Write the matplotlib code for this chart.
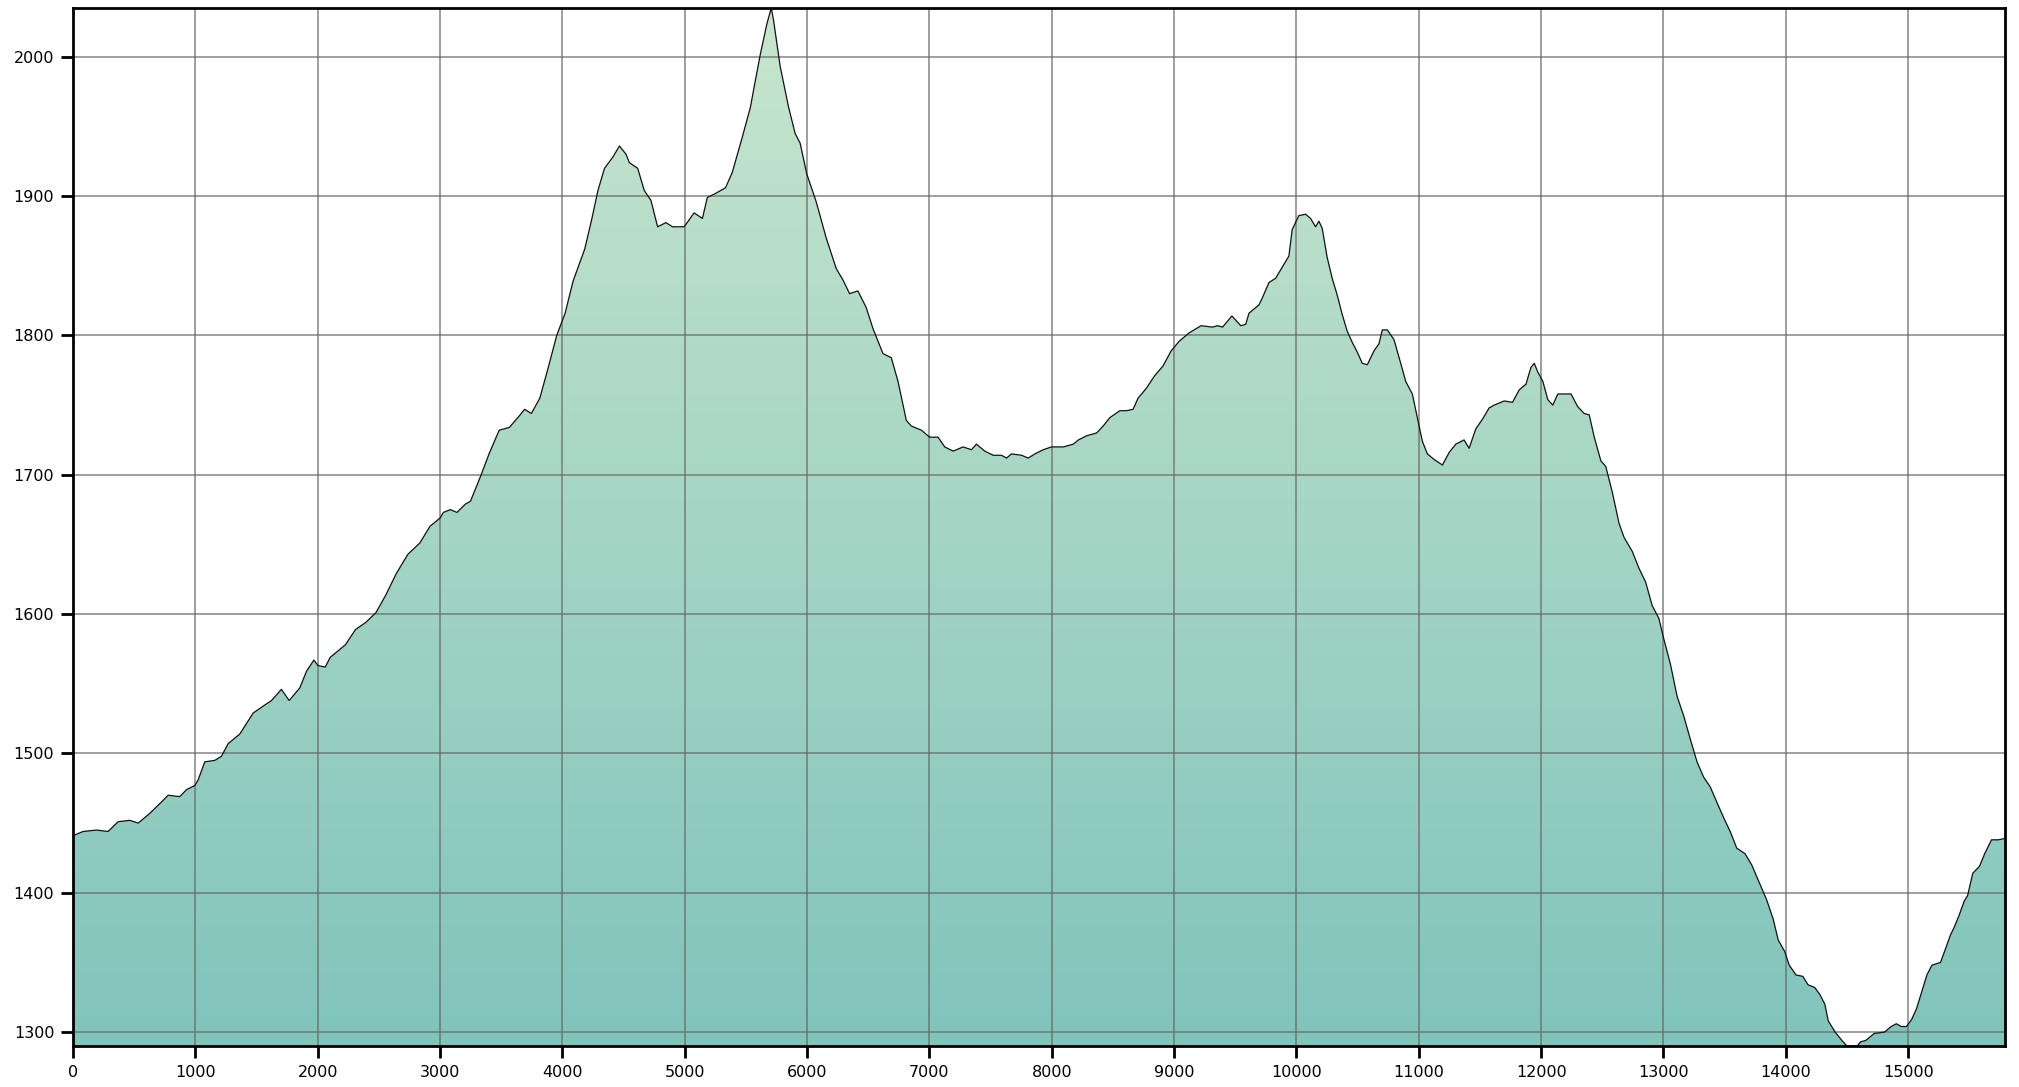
import numpy as np
import matplotlib
matplotlib.use("Agg")
import matplotlib.pyplot as plt
from matplotlib.colors import LinearSegmentedColormap

# distance along the route (m) and elevation (m)
dist = [0, 82, 191, 286, 368, 463, 532, 627, 709, 777, 872, 927, 995, 1022, 1077,
        1158, 1213, 1267, 1363, 1472, 1554, 1622, 1703, 1766, 1853, 1908, 1968,
        2003, 2061, 2102, 2226, 2309, 2392, 2475, 2558, 2641, 2737, 2834, 2917,
        3000, 3027, 3083, 3138, 3207, 3248, 3331, 3400, 3483, 3566, 3635, 3691,
        3746, 3815, 3884, 3953, 4022, 4087, 4182, 4236, 4290, 4344, 4412, 4466,
        4520, 4547, 4615, 4669, 4723, 4778, 4846, 4900, 4995, 5076, 5144, 5184,
        5252, 5333, 5388, 5469, 5537, 5564, 5618, 5672, 5707, 5726, 5780, 5848,
        5902, 5943, 5997, 6074, 6156, 6238, 6292, 6347, 6415, 6483, 6538, 6620,
        6688, 6743, 6811, 6852, 6934, 7002, 7070, 7125, 7193, 7275, 7343, 7384,
        7452, 7521, 7589, 7630, 7671, 7753, 7807, 7862, 7930, 7998, 8095, 8176,
        8217, 8285, 8366, 8420, 8474, 8556, 8610, 8664, 8705, 8772, 8840, 8908,
        8976, 9043, 9125, 9220, 9314, 9355, 9396, 9472, 9545, 9585, 9612, 9694,
        9721, 9775, 9829, 9883, 9938, 9965, 10019, 10074, 10115, 10156, 10183,
        10210, 10251, 10292, 10333, 10374, 10415, 10456, 10497, 10538, 10579,
        10634, 10674, 10702, 10743, 10797, 10852, 10893, 10947, 10988, 11029,
        11070, 11125, 11193, 11248, 11302, 11370, 11411, 11466, 11521, 11575,
        11616, 11698, 11766, 11821, 11876, 11916, 11944, 11971, 12014, 12054,
        12095, 12136, 12190, 12244, 12298, 12352, 12393, 12434, 12488, 12528,
        12583, 12637, 12678, 12745, 12799, 12854, 12908, 12962, 13003, 13057,
        13111, 13165, 13220, 13274, 13328, 13382, 13436, 13491, 13545, 13599,
        13667, 13721, 13789, 13843, 13897, 13938, 13990, 14028, 14083, 14139,
        14181, 14236, 14278, 14319, 14347, 14403, 14458, 14500, 14583, 14611,
        14653, 14722, 14806, 14861, 14903, 14944, 14986, 15028, 15069, 15111,
        15153, 15194, 15264, 15306, 15347, 15375, 15417, 15458, 15486, 15528,
        15583, 15625, 15681, 15736, 15792]
elev = [1441, 1444, 1445, 1444, 1451, 1452, 1450, 1457, 1464, 1470, 1469, 1474,
        1477, 1481, 1494, 1495, 1498, 1507, 1514, 1529, 1534, 1538, 1546, 1538,
        1547, 1559, 1567, 1563, 1562, 1569, 1578, 1589, 1594, 1601, 1614, 1629,
        1643, 1651, 1663, 1669, 1673, 1675, 1673, 1679, 1681, 1699, 1715, 1732,
        1734, 1741, 1747, 1744, 1755, 1777, 1800, 1816, 1839, 1862, 1882, 1904,
        1920, 1928, 1936, 1930, 1924, 1920, 1904, 1897, 1878, 1881, 1878, 1878,
        1888, 1884, 1899, 1902, 1906, 1917, 1942, 1964, 1977, 2002, 2024, 2035,
        2026, 1993, 1964, 1945, 1938, 1916, 1896, 1870, 1848, 1840, 1830, 1832,
        1820, 1805, 1787, 1784, 1767, 1739, 1735, 1732, 1727, 1727, 1720, 1717,
        1720, 1718, 1722, 1717, 1714, 1714, 1712, 1715, 1714, 1712, 1715, 1718,
        1720, 1720, 1722, 1725, 1728, 1730, 1735, 1741, 1746, 1746, 1747, 1755,
        1762, 1771, 1778, 1789, 1796, 1802, 1807, 1806, 1807, 1806, 1814, 1807,
        1808, 1816, 1822, 1827, 1838, 1841, 1849, 1857, 1876, 1886, 1887, 1884,
        1878, 1882, 1877, 1856, 1841, 1829, 1815, 1803, 1795, 1788, 1780, 1779,
        1789, 1794, 1804, 1804, 1797, 1780, 1767, 1758, 1741, 1724, 1715, 1711,
        1707, 1716, 1722, 1725, 1719, 1733, 1740, 1748, 1750, 1753, 1752, 1761,
        1765, 1777, 1780, 1774, 1767, 1754, 1750, 1758, 1758, 1758, 1749, 1744,
        1743, 1727, 1710, 1706, 1687, 1665, 1655, 1645, 1633, 1623, 1606, 1597,
        1582, 1564, 1541, 1527, 1510, 1494, 1483, 1476, 1465, 1454, 1444, 1432,
        1428, 1420, 1406, 1395, 1381, 1366, 1358, 1348, 1341, 1340, 1334, 1332,
        1327, 1320, 1308, 1300, 1294, 1290, 1290, 1293, 1294, 1299, 1300, 1304,
        1306, 1304, 1304, 1309, 1317, 1329, 1341, 1348, 1350, 1360, 1370, 1375,
        1384, 1394, 1398, 1414, 1419, 1428, 1438, 1438, 1439]

x_ticks = [0, 1000, 2000, 3000, 4000, 5000, 6000, 7000, 8000, 9000, 10000,
           11000, 12000, 13000, 14000, 15000]
y_ticks = [1300, 1400, 1500, 1600, 1700, 1800, 1900, 2000]

dist = np.array(dist)
elev = np.array(elev)

fig = plt.figure(figsize=(20.19, 10.87), dpi=100)
ax = fig.add_axes([0.0362, 0.0377, 0.9569, 0.9549])

x0, x1 = dist.min(), dist.max()
y0, y1 = elev.min(), elev.max()

# gradient fill under the profile, clipped to the area
cmap = LinearSegmentedColormap.from_list("elev", ["#80c4bc", "#c8e6cd"])
grad = np.linspace(0, 1, 256).reshape(-1, 1)
img = ax.imshow(grad, cmap=cmap, origin="lower", aspect="auto",
                extent=[x0, x1, y0, y1], zorder=1)
poly = ax.fill_between(dist, elev, y0, color="none", lw=0)
img.set_clip_path(poly.get_paths()[0], transform=ax.transData)

ax.plot(dist, elev, color="#111111", lw=0.9, zorder=3)

ax.set_xlim(x0, x1)
ax.set_ylim(y0, y1)
ax.set_xticks(x_ticks)
ax.set_yticks(y_ticks)

ax.grid(True, color="#686868", alpha=0.75, lw=1.2, zorder=2)
ax.set_axisbelow(False)

for s in ax.spines.values():
    s.set_linewidth(2)
    s.set_zorder(4)
ax.tick_params(direction="out", length=8.5, width=2, labelsize=11.5, pad=5)

fig.savefig("out.png", dpi=100)
